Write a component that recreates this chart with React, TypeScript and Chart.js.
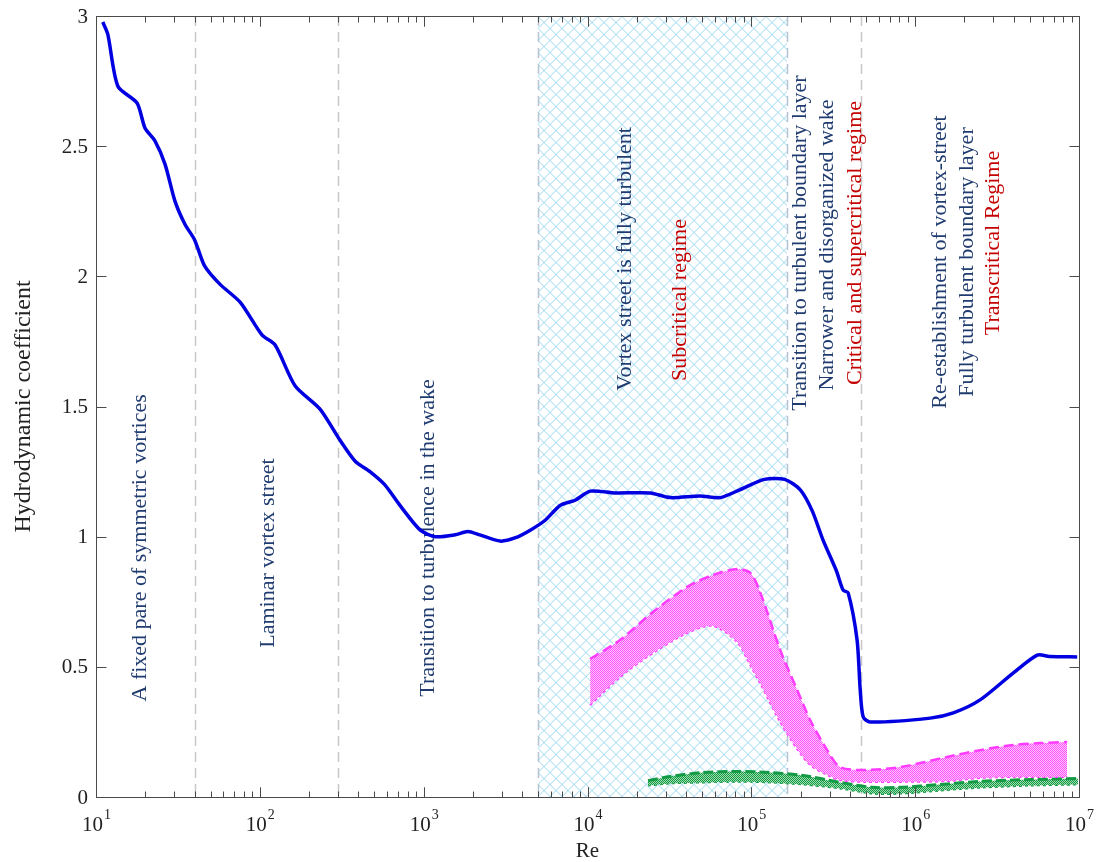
import React, { useEffect, useRef } from "react";
import { Chart, registerables } from "chart.js";

Chart.register(...registerables);

// ---- Data ----
const reMean = [11, 11.8, 13.6, 17.8, 19.9, 22.9, 26.4, 30.3, 34.9, 40, 46, 57, 76, 103, 124, 164, 233, 309, 382, 470, 578, 717, 950, 1175, 1555, 1860, 2200, 2930, 3600, 4500, 5540, 6800, 8400, 10400, 14700, 24200, 32000, 48500, 64600, 85000, 120000, 160000, 199000, 235000, 274000, 330000, 363000, 390000, 442000, 462000, 482000, 531000, 1236000, 1710000, 2490000, 3960000, 5560000, 6600000, 9750000];
const cdMean = [2.977, 2.93, 2.73, 2.666, 2.57, 2.52, 2.43, 2.29, 2.2, 2.14, 2.04, 1.97, 1.9, 1.775, 1.736, 1.58, 1.49, 1.37, 1.29, 1.25, 1.2, 1.12, 1.026, 1.0, 1.007, 1.02, 1.007, 0.983, 0.995, 1.026, 1.064, 1.12, 1.14, 1.175, 1.168, 1.168, 1.15, 1.156, 1.15, 1.18, 1.22, 1.22, 1.18, 1.1, 0.987, 0.87, 0.795, 0.784, 0.603, 0.411, 0.307, 0.288, 0.303, 0.323, 0.373, 0.476, 0.545, 0.54, 0.538];

const reLiftBand = [10375, 15800, 25100, 40600, 58400, 81900, 98400, 113000, 150000, 190500, 228600, 290400, 348600, 495400, 809000, 1567000, 2490000, 3960000, 5790000, 8470000];
const liftUpper = [0.53, 0.603, 0.711, 0.807, 0.853, 0.876, 0.861, 0.788, 0.565, 0.411, 0.296, 0.18, 0.115, 0.104, 0.115, 0.154, 0.18, 0.2, 0.207, 0.211];
const liftLower = [0.353, 0.461, 0.553, 0.63, 0.657, 0.595, 0.507, 0.438, 0.288, 0.184, 0.123, 0.085, 0.065, 0.058, 0.058, 0.061, 0.073, 0.077, 0.077, 0.077];

const reStBand = [23400, 31900, 50800, 81900, 130300, 207000, 348600, 554000, 809000, 1420000, 2490000, 5040000, 9880000];
const stUpper = [0.063, 0.079, 0.094, 0.098, 0.094, 0.083, 0.056, 0.037, 0.037, 0.048, 0.06, 0.067, 0.071];
const stLower = [0.044, 0.052, 0.056, 0.059, 0.056, 0.048, 0.033, 0.013, 0.013, 0.025, 0.036, 0.044, 0.048];

const regimeBoundaries = [40, 300, 470000];
const turbulentRange = [5000, 165000];
const yTickValues = [0, 0.5, 1, 1.5, 2, 2.5, 3];
const xDecades = [1, 2, 3, 4, 5, 6, 7];

const regimeTexts = [
  "A fixed pare of symmetric vortices",
  "Laminar vortex street",
  "Transition to turbulence in the wake",
  "Vortex street is fully turbulent",
  "Subcritical regime",
  "Transition to turbulent boundary layer",
  "Narrower and disorganized wake",
  "Critical and supercritical regime",
  "Re-establishment of vortex-street",
  "Fully turbulent boundary layer",
  "Transcritical Regime",
];
const xTitle = "Re";
const yTitle = "Hydrodynamic coefficient";

// ---- Layout / style (positions in data coordinates) ----
const NAVY = "#1f3b6f";
const RED = "#c40000";
const labelAnchors = [
  { re: 18.6, y: 0.957, color: NAVY },
  { re: 112, y: 0.937, color: NAVY },
  { re: 1064, y: 0.995, color: NAVY },
  { re: 17000, y: 2.067, color: NAVY },
  { re: 36700, y: 1.909, color: RED },
  { re: 198600, y: 2.128, color: NAVY },
  { re: 290000, y: 2.12, color: NAVY },
  { re: 430000, y: 2.128, color: RED },
  { re: 1420000, y: 2.055, color: NAVY },
  { re: 2080000, y: 2.055, color: NAVY },
  { re: 2990000, y: 2.128, color: RED },
];

const FONT = '"Liberation Serif", "Times New Roman", serif';

function makePattern(a: string, b: string): CanvasPattern | string {
  const p = document.createElement("canvas");
  p.width = 2;
  p.height = 2;
  const g = p.getContext("2d");
  if (!g) return a;
  g.fillStyle = b;
  g.fillRect(0, 0, 2, 2);
  g.fillStyle = a;
  g.fillRect(0, 0, 1, 1);
  g.fillRect(1, 1, 1, 1);
  return g.createPattern(p, "repeat") || a;
}

const pts = (xs: number[], ys: number[]) => xs.map((x, i) => ({ x, y: ys[i] }));

const decorPlugin = {
  id: "decor",
  beforeDatasetsDraw(chart: any) {
    const { ctx, chartArea } = chart;
    const { top, bottom } = chartArea;
    const xs = chart.scales.x;
    const ys = chart.scales.y;
    ctx.save();
    // hatched turbulent region
    const x0 = xs.getPixelForValue(turbulentRange[0]);
    const x1 = xs.getPixelForValue(turbulentRange[1]);
    ctx.save();
    ctx.beginPath();
    ctx.rect(x0, top, x1 - x0, bottom - top);
    ctx.clip();
    ctx.strokeStyle = "#9ad7f0";
    ctx.lineWidth = 1;
    const h = Math.round(bottom - top);
    const step = 12;
    const startX = Math.round(x0) + 0.5 - h - step;
    ctx.beginPath();
    for (let x = startX; x < x1 + h + step; x += step) {
      ctx.moveTo(x, bottom);
      ctx.lineTo(x + h, bottom - h);
      ctx.moveTo(x, bottom - h);
      ctx.lineTo(x + h, bottom);
    }
    ctx.stroke();
    ctx.restore();
    // dashed boundaries
    ctx.setLineDash([10, 6]);
    ctx.lineWidth = 1.5;
    ctx.strokeStyle = "#b4c4d0";
    [turbulentRange[0], turbulentRange[1]].forEach((v) => {
      const px = Math.round(xs.getPixelForValue(v)) + 0.5;
      ctx.beginPath();
      ctx.moveTo(px, top);
      ctx.lineTo(px, bottom);
      ctx.stroke();
    });
    ctx.strokeStyle = "#c8c8c8";
    regimeBoundaries.forEach((v) => {
      const px = Math.round(xs.getPixelForValue(v)) + 0.5;
      ctx.beginPath();
      ctx.moveTo(px, top);
      ctx.lineTo(px, bottom);
      ctx.stroke();
    });
    ctx.setLineDash([]);
    // regime labels
    ctx.font = `22px ${FONT}`;
    ctx.textAlign = "center";
    ctx.textBaseline = "middle";
    regimeTexts.forEach((t, i) => {
      const a = labelAnchors[i];
      const px = xs.getPixelForValue(a.re);
      const py = ys.getPixelForValue(a.y);
      ctx.save();
      ctx.translate(px, py);
      ctx.rotate(-Math.PI / 2);
      ctx.fillStyle = a.color;
      ctx.fillText(t, 0, 0);
      ctx.restore();
    });
    ctx.restore();
  },
  afterDraw(chart: any) {
    const { ctx, chartArea } = chart;
    const { left, right, top, bottom } = chartArea;
    const xs = chart.scales.x;
    const ys = chart.scales.y;
    ctx.save();
    ctx.strokeStyle = "#4a4a4a";
    ctx.lineWidth = 1;
    const L = Math.round(left) + 0.5, R = Math.round(right) + 0.5;
    const T = Math.round(top) + 0.5, B = Math.round(bottom) + 0.5;
    ctx.strokeRect(L, T, R - L, B - T);
    // x ticks (major + minor)
    ctx.beginPath();
    for (let d = 1; d < 7; d++) {
      for (let k = 1; k <= 10; k++) {
        const v = k * Math.pow(10, d);
        if (v > 1e7) continue;
        const px = Math.round(xs.getPixelForValue(v)) + 0.5;
        const len = k === 1 || k === 10 ? 10 : 6;
        ctx.moveTo(px, B);
        ctx.lineTo(px, B - len);
        ctx.moveTo(px, T);
        ctx.lineTo(px, T + len);
      }
    }
    // y ticks
    yTickValues.forEach((v) => {
      const py = Math.round(ys.getPixelForValue(v)) + 0.5;
      ctx.moveTo(L, py);
      ctx.lineTo(L + 10, py);
      ctx.moveTo(R, py);
      ctx.lineTo(R - 10, py);
    });
    ctx.stroke();
    // y tick labels
    ctx.fillStyle = "#222";
    ctx.font = `21px ${FONT}`;
    ctx.textAlign = "right";
    ctx.textBaseline = "middle";
    yTickValues.forEach((v) => {
      const py = ys.getPixelForValue(v);
      ctx.fillText(String(v), left - 8, py + 1);
    });
    // x tick labels 10^n
    ctx.textAlign = "left";
    ctx.textBaseline = "alphabetic";
    xDecades.forEach((n) => {
      const px = xs.getPixelForValue(Math.pow(10, n));
      ctx.font = `21px ${FONT}`;
      const w1 = ctx.measureText("10").width;
      ctx.font = `14px ${FONT}`;
      const w2 = ctx.measureText(String(n)).width;
      const sx = px - (w1 + w2) / 2;
      ctx.font = `21px ${FONT}`;
      ctx.fillText("10", sx, bottom + 34);
      ctx.font = `14px ${FONT}`;
      ctx.fillText(String(n), sx + w1 + 1, bottom + 22);
    });
    // axis titles
    ctx.font = `21px ${FONT}`;
    ctx.textAlign = "center";
    ctx.fillText(xTitle, (left + right) / 2, bottom + 60);
    ctx.save();
    ctx.font = `24px ${FONT}`;
    ctx.translate(24, (top + bottom) / 2);
    ctx.rotate(-Math.PI / 2);
    ctx.textBaseline = "middle";
    ctx.fillText(yTitle, 0, 0);
    ctx.restore();
    ctx.restore();
  },
};

export default function App() {
  const ref = useRef<HTMLCanvasElement | null>(null);
  useEffect(() => {
    if (!ref.current) return;
    const pink = makePattern("#ff4dff", "#ffc8ff");
    const green = makePattern("#129a44", "#9edcb0");
    const chart = new Chart(ref.current, {
      type: "line",
      data: {
        datasets: [
          {
            label: "Drag coefficient",
            data: pts(reMean, cdMean),
            borderColor: "#0000e0",
            borderWidth: 3.5,
            tension: 0.25,
            pointRadius: 0,
            fill: false,
          },
          {
            label: "Lift upper",
            data: pts(reLiftBand, liftUpper),
            borderColor: "#ff3cff",
            borderWidth: 2.5,
            borderDash: [10, 5],
            backgroundColor: pink as any,
            tension: 0.3,
            pointRadius: 0,
            fill: "+1",
          },
          {
            label: "Lift lower",
            data: pts(reLiftBand, liftLower),
            borderColor: "#ff3cff",
            borderWidth: 2,
            borderDash: [3, 3],
            tension: 0.3,
            pointRadius: 0,
            fill: false,
          },
          {
            label: "Strouhal upper",
            data: pts(reStBand, stUpper),
            borderColor: "#129a44",
            borderWidth: 3,
            borderDash: [10, 4],
            backgroundColor: green as any,
            tension: 0.3,
            pointRadius: 0,
            fill: "+1",
          },
          {
            label: "Strouhal lower",
            data: pts(reStBand, stLower),
            borderColor: "#129a44",
            borderWidth: 2,
            borderDash: [3, 3],
            tension: 0.3,
            pointRadius: 0,
            fill: false,
          },
        ],
      },
      options: {
        responsive: false,
        animation: false,
        layout: { padding: { left: 96, right: 29, top: 16, bottom: 65 } },
        scales: {
          x: { type: "logarithmic", min: 10, max: 1e7, display: false },
          y: { type: "linear", min: 0, max: 3, display: false },
        },
        plugins: {
          legend: { display: false },
          tooltip: { enabled: false },
        },
        elements: { point: { radius: 0 } },
      },
      plugins: [decorPlugin],
    });
    return () => chart.destroy();
  }, []);
  return (
    <div style={{ position: "absolute", left: 0, top: 0, width: 1108, height: 862, background: "#fff" }}>
      <canvas ref={ref} width={1108} height={862} style={{ display: "block" }} />
    </div>
  );
}
